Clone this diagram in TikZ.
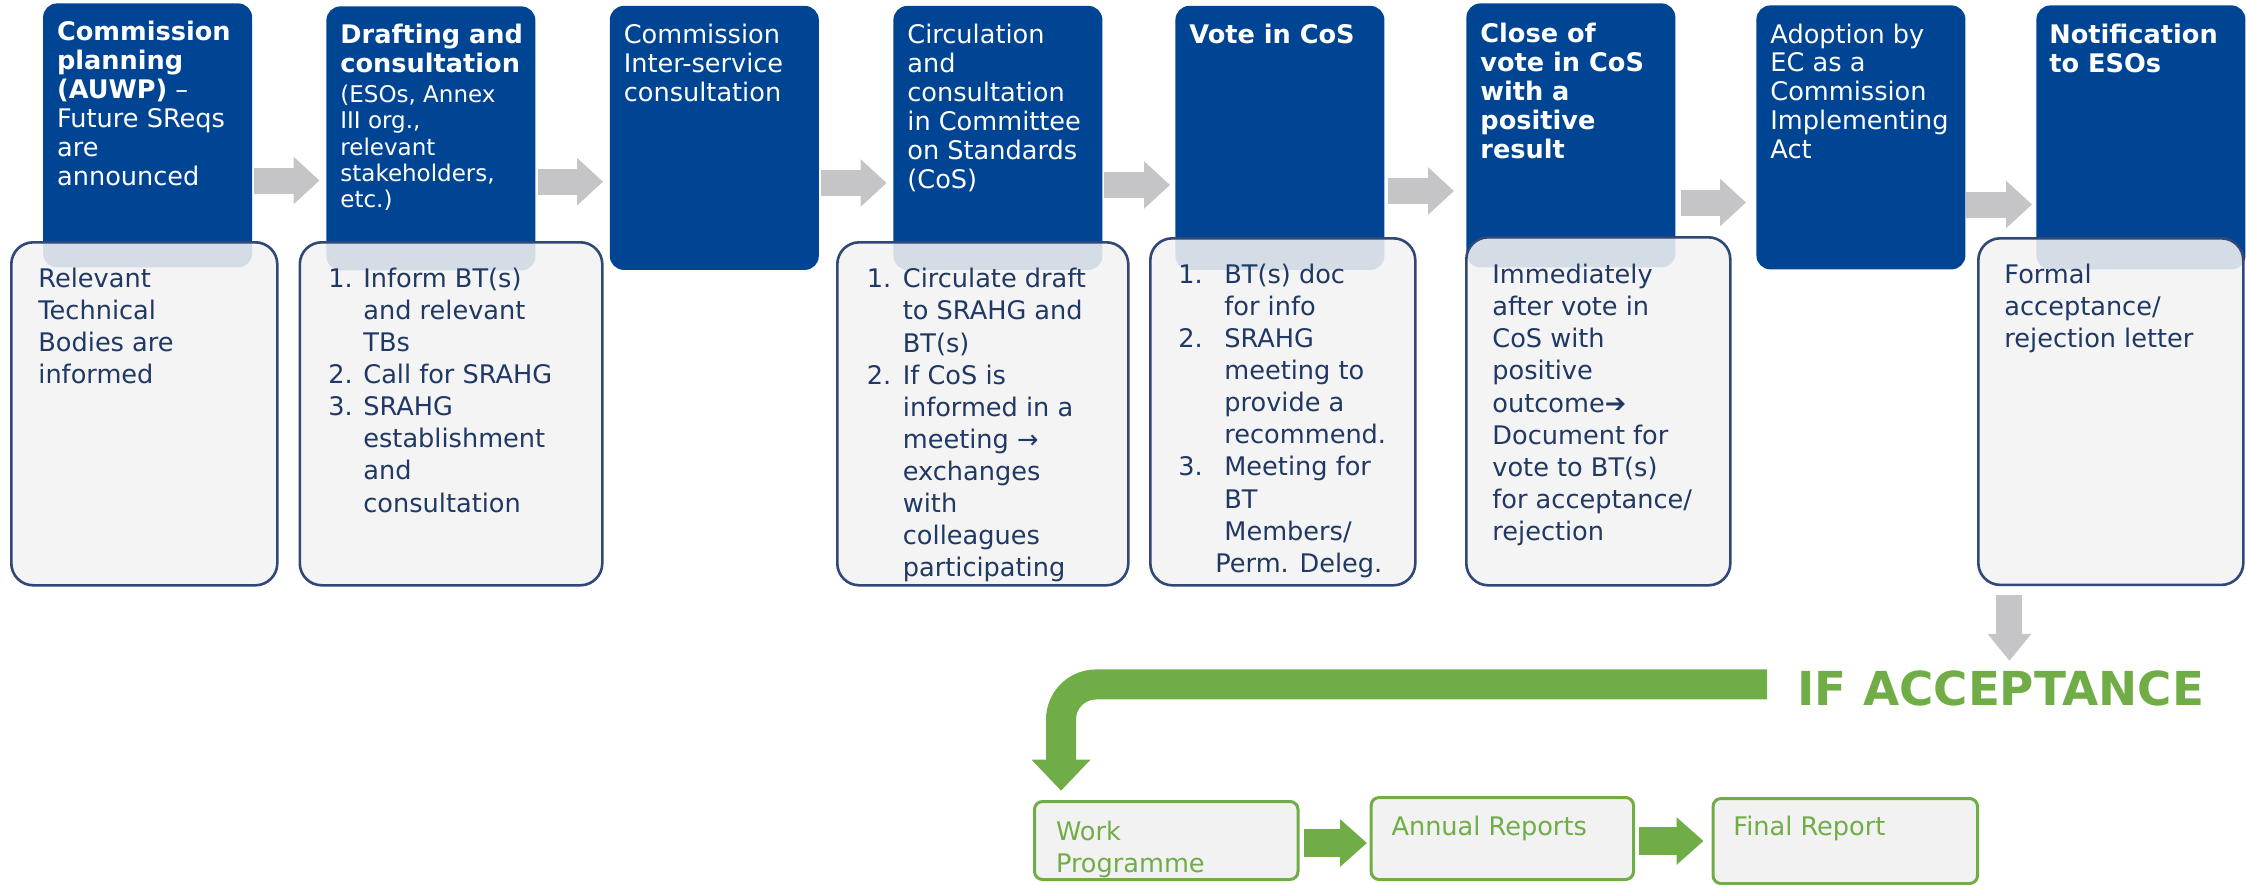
\documentclass[tikz,border=0pt]{standalone}
\usepackage{fontspec}
\setmainfont{DejaVu Sans}
\usetikzlibrary{arrows.meta,positioning}

\definecolor{ecblue}{RGB}{0,68,148}
\definecolor{navy}{RGB}{31,56,100}
\definecolor{boxline}{RGB}{47,72,120}
\definecolor{boxfill}{RGB}{242,242,242}
\definecolor{arrowgray}{RGB}{197,197,199}
\definecolor{accgreen}{RGB}{112,173,71}

\newlength{\nrw}
\newcommand{\stepnr}[1]{\makebox[\nrw][l]{#1}}
\newcommand{\stepind}{\hspace*{\nrw}}

\begin{document}
\begin{tikzpicture}[x=0.5pt, y=-0.5pt,
    bluebox/.style={fill=ecblue, rounded corners=7pt, anchor=north west, inner sep=0pt,
      minimum width=104.5pt, minimum height=132pt},
    infobox/.style={draw=boxline, line width=1.3pt, fill=boxfill, fill opacity=0.88,
      rounded corners=11pt, anchor=north west, inner sep=0pt},
    outbox/.style={draw=accgreen, line width=1.5pt, fill=boxfill, rounded corners=4pt,
      anchor=north west, inner sep=0pt},
    headtext/.style={anchor=north west, inner sep=0pt, align=left, text=white,
      font=\fontsize{12.8}{14.5}\selectfont},
    bodytext/.style={anchor=north west, inner sep=0pt, align=left, text=navy,
      font=\fontsize{12.8}{16.05}\selectfont},
    outtext/.style={anchor=north west, inner sep=0pt, align=left, text=accgreen,
      font=\fontsize{12.8}{15.9}\selectfont},
    grayarrow/.style={arrowgray, line width=13pt, -{Triangle[length=13pt, width=23pt]}},
    greenarrow/.style={accgreen, line width=14pt, -{Triangle[length=13.5pt, width=23pt]}}]

	\useasboundingbox (0,0) rectangle (2246,884);

	\foreach \n/\x/\y in {c1/42.7/3, c2/326/6, c3/609.4/5.5, c4/893/5.5,
			c5/1175/5.5, c6/1466/3, c7/1756/5, c8/2036/5}{
			\node[bluebox] (\n) at (\x,\y) {};
		}

	\node[headtext] (h1) at ([shift={(14,17.5)}]c1.north west)
		{\textbf{Commission}\\\textbf{planning}\\\textbf{(AUWP)} –\\Future SReqs\\are\\announced};
	\node[headtext, font=\bfseries\fontsize{12.8}{14.35}\selectfont] (h2) at ([shift={(14,18)}]c2.north west)
		{Drafting and\\consultation};
	\node[headtext, font=\fontsize{11.5}{13.2}\selectfont, below=5.6pt of h2.south west, anchor=north west] (h2b)
		{(ESOs, Annex\\III org.,\\relevant\\stakeholders,\\etc.)};
	\node[headtext] (h3) at ([shift={(14,18)}]c3.north west) {Commission\\Inter-service\\consultation};
	\node[headtext] (h4) at ([shift={(14,18)}]c4.north west)
		{Circulation\\and\\consultation\\in Committee\\on Standards\\(CoS)};
	\node[headtext, font=\bfseries\fontsize{12.8}{14.5}\selectfont] (h5) at ([shift={(14,18)}]c5.north west) {Vote in CoS};
	\node[headtext, font=\bfseries\fontsize{12.8}{14.6}\selectfont] (h6) at ([shift={(14,19.2)}]c6.north west)
		{Close of\\vote in CoS\\with a\\positive\\result};
	\node[headtext, font=\fontsize{12.8}{14.45}\selectfont] (h7) at ([shift={(14,18.2)}]c7.north west)
		{Adoption by\\EC as a\\Commission\\Implementing\\Act};
	\node[headtext, font=\bfseries\fontsize{12.8}{14.5}\selectfont] (h8) at ([shift={(13,18.2)}]c8.north west)
		{Notification\\to ESOs};

	\foreach \n/\x/\y/\w/\h in {d1/10/241/266/343, d2/298.5/241/302.5/343, d4/836/241/291/343,
			d5/1149/237/265/347, d6/1465/236/264/348, d8/1977/237/265/346.6}{
			\node[infobox, minimum width=\w*0.5pt, minimum height=\h*0.5pt] (\n) at (\x,\y) {};
		}

	\node[bodytext] (d1t) at ([shift={(28,26.5)}]d1.north west)
		{Relevant\\Technical\\Bodies are\\informed};
	\setlength{\nrw}{17.5pt}
	\node[bodytext] (d2t) at ([shift={(29.5,26.5)}]d2.north west)
		{\stepnr{1.}Inform BT(s)\\\stepind and relevant\\\stepind TBs\\\stepnr{2.}Call for SRAHG\\
			\stepnr{3.}SRAHG\\\stepind establishment\\\stepind and\\\stepind consultation};
	\setlength{\nrw}{18pt}
	\node[bodytext] (d4t) at ([shift={(30.5,27)}]d4.north west)
		{\stepnr{1.}Circulate draft\\\stepind to SRAHG and\\\stepind BT(s)\\\stepnr{2.}If CoS is\\
			\stepind informed in a\\\stepind meeting →\\\stepind exchanges\\\stepind with\\
			\stepind colleagues\\\stepind participating};
	\setlength{\nrw}{23pt}
	\node[bodytext] (d5t) at ([shift={(29,26.5)}]d5.north west)
		{\stepnr{1.}BT(s) doc\\\stepind for info\\\stepnr{2.}SRAHG\\\stepind meeting to\\
			\stepind provide a\\\stepind recommend.\\\stepnr{3.}Meeting for\\\stepind BT\\
			\stepind Members/\\\hspace*{18.5pt}Perm. Deleg.};
	\node[bodytext] (d6t) at ([shift={(27,27.8)}]d6.north west)
		{Immediately\\after vote in\\CoS with\\positive\\outcome➔\\Document for\\vote to BT(s)\\
			for acceptance/\\rejection};
	\node[bodytext] (d8t) at ([shift={(27,26.5)}]d8.north west)
		{Formal\\acceptance/\\rejection letter};

	\foreach \a/\b/\y/\s/\e in {c1/c2/180.5/0.65/3.25, c2/c3/181.7/1/3.2, c3/c4/183/0.8/3.2,
			c4/c5/185/0.5/2.5, c5/c6/191/1.8/6, c6/c7/202.5/2.5/5, c7/c8/204.5/0.2/2}{
			\draw[grayarrow, shorten <=\s pt, shorten >=\e pt] (\a.east |- 0,\y) -- (\b.west |- 0,\y);
		}

	\node[anchor=base west, inner sep=0pt, text=accgreen, font=\bfseries\fontsize{23.4}{28}\selectfont]
		(acc) at (1797,705) {IF ACCEPTANCE};
	\coordinate (accup) at ([xshift=4.3pt]acc.north);
	\draw[arrowgray, line width=13pt, -{Triangle[length=13.5pt, width=21pt]},
		shorten <=4.5pt, shorten >=4.5pt] (accup |- d8.south) -- (accup);

	\node[outbox, minimum width=131.75pt, minimum height=39pt] (wp) at (1033,800) {};
	\node[outbox, minimum width=131.2pt, minimum height=41pt] (ar) at (1369.6,796) {};
	\node[outbox, minimum width=132.25pt, minimum height=42.5pt] (fr) at (1711.5,797) {};
	\node[outtext] (wpt) at ([shift={(22.6,20.5)}]wp.north west) {Work\\Programme};
	\node[outtext] (art) at ([shift={(21.5,19.5)}]ar.north west) {Annual Reports};
	\node[outtext] (frt) at ([shift={(21.5,19)}]fr.north west) {Final Report};

	\draw[accgreen, line width=15pt, rounded corners=17.5pt, -{Triangle[length=15.5pt, width=28.5pt]},
		shorten >=4.65pt] ([shift={(-30,-3.5)}]acc.west) -| ([xshift=14pt]wp.north west);
	\draw[greenarrow, shorten <=2pt, shorten >=1.3pt] (wp.east |- 0,843) -- (ar.west |- 0,843);
	\draw[greenarrow, shorten <=2pt, shorten >=4pt] (ar.east |- 0,841) -- (fr.west |- 0,841);

\end{tikzpicture}
\end{document}
